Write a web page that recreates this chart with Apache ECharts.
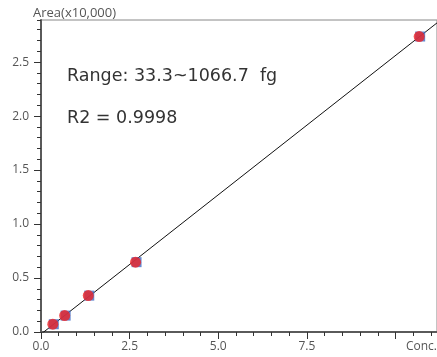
<!DOCTYPE html>
<html><head><meta charset="utf-8">
<script src="https://cdn.jsdelivr.net/npm/echarts@6/dist/echarts.min.js"></script>
<style>html,body{margin:0;padding:0;background:#fff}#c{width:437px;height:357px}</style>
</head><body><div id="c"></div>
<script>
const concX = [0.333, 0.667, 1.333, 2.667, 10.667];
const areaY = [0.072, 0.152, 0.337, 0.647, 2.737];
const xTickLabels = ['0.0', '2.5', '5.0', '7.5'];
const yTickLabels = ['0.0', '0.5', '1.0', '1.5', '2.0', '2.5'];
const rangeText = 'Range: 33.3~1066.7  fg';
const r2Text = 'R2 = 0.9998';
const xName = 'Conc.';
const yName = 'Area(x10,000)';

const XMAX = 11.17, YMAX = 2.89;
// least squares fit from the data
const n = concX.length;
const mx = concX.reduce((a,b)=>a+b,0)/n, my = areaY.reduce((a,b)=>a+b,0)/n;
let sxy=0, sxx=0;
for (let i=0;i<n;i++){ sxy+=(concX[i]-mx)*(areaY[i]-my); sxx+=(concX[i]-mx)**2; }
const slope = sxy/sxx, icpt = my - slope*mx;
const fitLine = [[0, icpt], [XMAX, icpt + slope*XMAX]];

const FONT = '"Open Sans", "Noto Sans", sans-serif';
const FONT2 = '"DejaVu Sans", sans-serif';
const labelColor = '#555';
const axisLineStyle = {color:'#5a5a5a', width:2};

const chart = echarts.init(document.getElementById('c'));
chart.setOption({
  animation:false,
  grid:{left:41, top:20, right:0, bottom:25, show:true, borderColor:'#888', borderWidth:1},
  xAxis:[
    {type:'value', min:0, max:XMAX, interval:2.5, position:'bottom',
     axisLine:{show:true, lineStyle:axisLineStyle, onZero:false},
     axisTick:{show:true, length:7, lineStyle:{color:'#333'}},
     splitLine:{show:false},
     axisLabel:{margin:9, color:labelColor, fontSize:12, fontFamily:FONT, showMaxLabel:false,
       formatter:(v)=>{const i=Math.round(v/2.5); return (Math.abs(v-i*2.5)<1e-6 && i<xTickLabels.length)?xTickLabels[i]:'';}}},
    {type:'value', min:0, max:XMAX, interval:0.5, position:'bottom',
     axisLine:{show:false, onZero:false},
     axisTick:{show:true, length:4, lineStyle:{color:'#333'}},
     splitLine:{show:false}, axisLabel:{show:false}}
  ],
  yAxis:[
    {type:'value', min:0, max:YMAX, interval:0.5, position:'left',
     axisLine:{show:true, lineStyle:axisLineStyle, onZero:false},
     axisTick:{show:true, length:7, lineStyle:{color:'#333'}},
     splitLine:{show:false},
     axisLabel:{margin:12, color:labelColor, fontSize:12, fontFamily:FONT, showMaxLabel:false,
       formatter:(v)=>{const i=Math.round(v/0.5); return (Math.abs(v-i*0.5)<1e-6 && i<yTickLabels.length)?yTickLabels[i]:'';}}},
    {type:'value', min:0, max:YMAX, interval:0.1, position:'left',
     axisLine:{show:false, onZero:false},
     axisTick:{show:true, length:4, lineStyle:{color:'#333'}},
     splitLine:{show:false}, axisLabel:{show:false}}
  ],
  series:[
    {type:'line', data:fitLine, symbol:'none', lineStyle:{color:'#111', width:1}, z:2, silent:true},
    {type:'scatter', data:concX.map((x,i)=>[x,areaY[i]]), symbol:'rect', symbolSize:10, symbolOffset:[1,0],
     itemStyle:{color:'#3f6cc4'}, z:3},
    {type:'scatter', data:concX.map((x,i)=>[x,areaY[i]]), symbol:'circle', symbolSize:11,
     itemStyle:{color:'#ee2226'}, z:4}
  ],
  graphic:[
    {type:'text', x:33, y:20, style:{text:yName, font:'13px '+FONT, fill:labelColor, textVerticalAlign:'bottom'}},
    {type:'text', x:437, y:341, style:{text:xName, font:'12px '+FONT, fill:labelColor, textAlign:'right', textVerticalAlign:'top'}},
    {type:'text', x:67, y:76, style:{text:rangeText, font:'17.5px '+FONT2, fill:'#333', textVerticalAlign:'middle'}},
    {type:'text', x:67, y:118, style:{text:r2Text, font:'17.5px '+FONT2, fill:'#333', textVerticalAlign:'middle'}}
  ]
});
</script></body></html>
